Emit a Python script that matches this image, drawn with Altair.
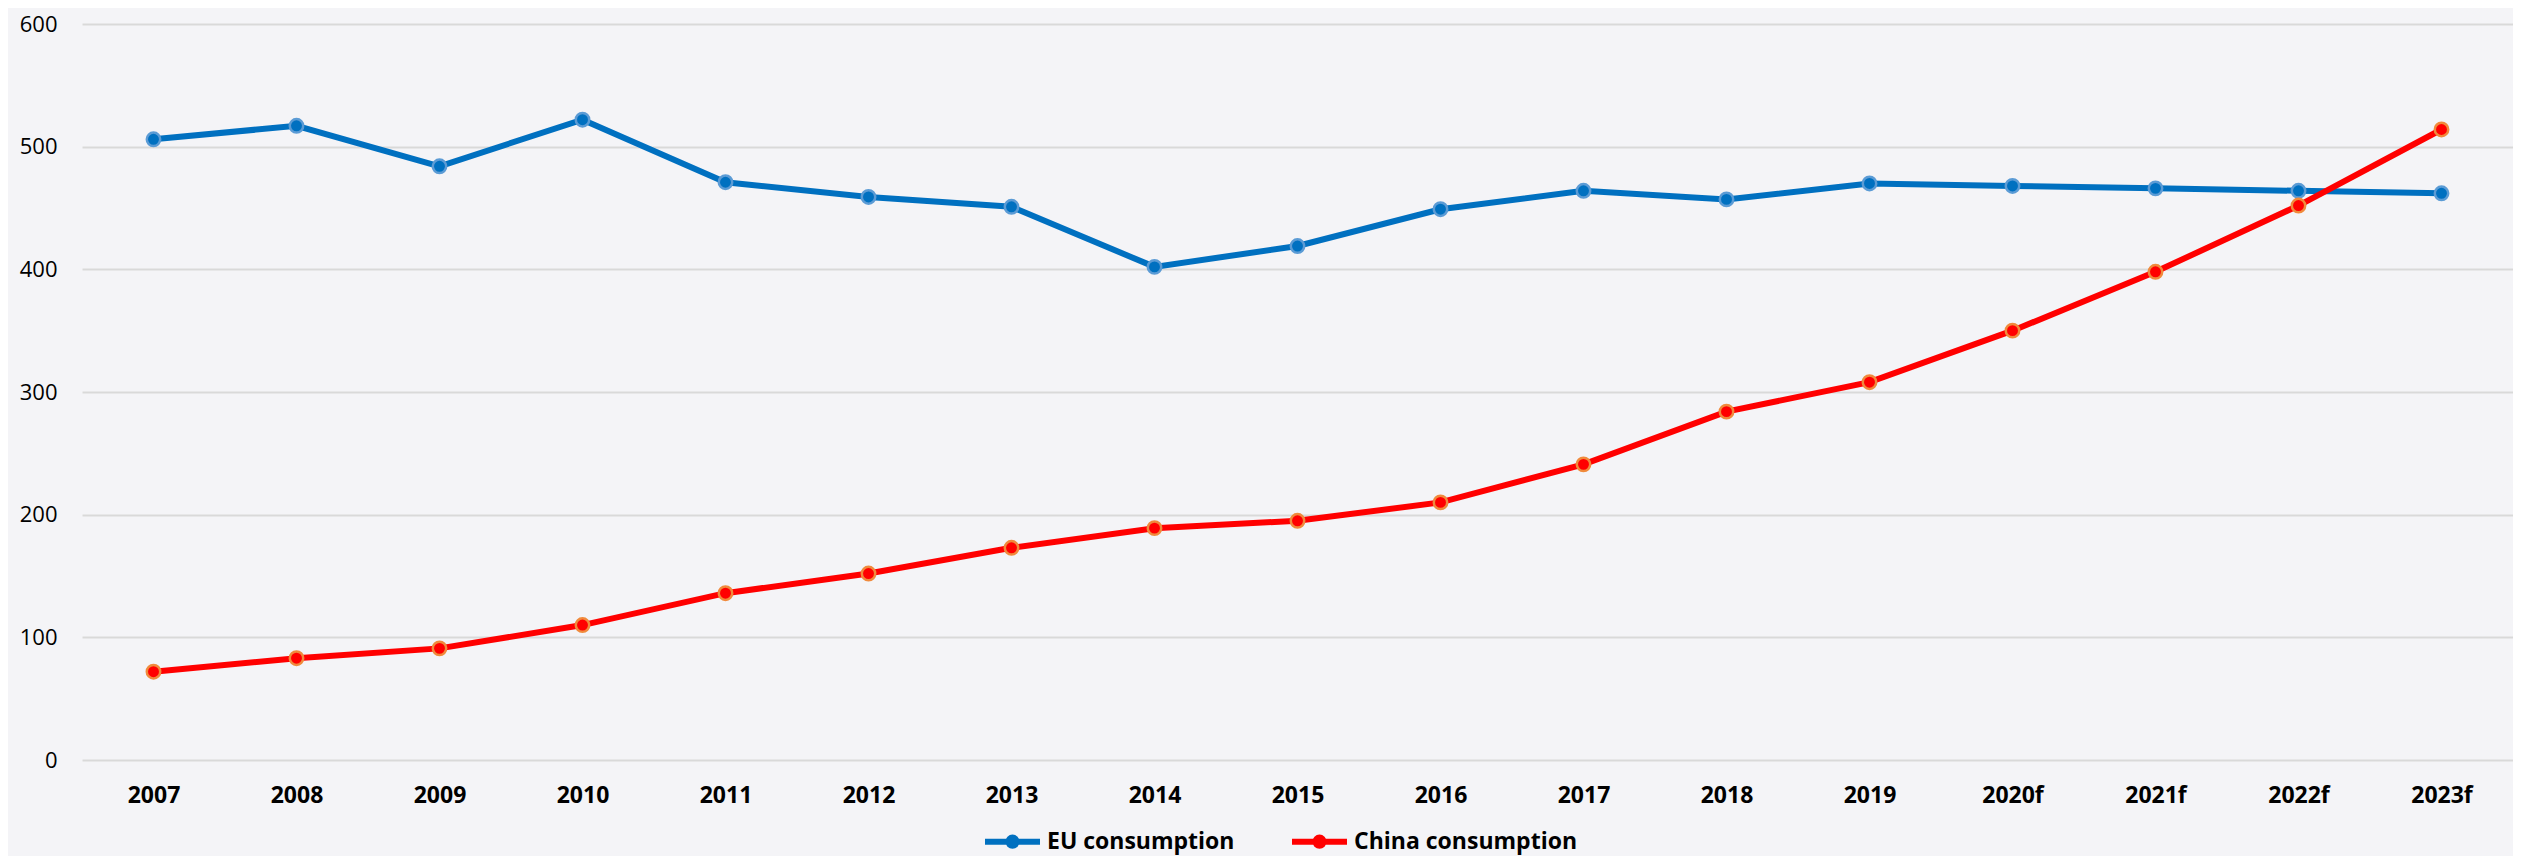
import altair as alt
import pandas as pd

years = ["2007", "2008", "2009", "2010", "2011", "2012", "2013", "2014", "2015",
         "2016", "2017", "2018", "2019", "2020f", "2021f", "2022f", "2023f"]
eu_consumption = [506, 517, 484, 522, 471, 459, 451, 402, 419, 449, 464, 457, 470, 468, 466, 464, 462]
china_consumption = [72, 83, 91, 110, 136, 152, 173, 189, 195, 210, 241, 284, 308, 350, 398, 452, 514]
series_names = ["EU consumption", "China consumption"]
line_colors = ["#0070C0", "#FF0000"]
marker_edge_colors = ["#5B9BD5", "#F08A3C"]
y_ticks = [0, 100, 200, 300, 400, 500, 600]

rows = []
for i, yr in enumerate(years):
    rows.append({"year": yr, "series": series_names[0], "value": eu_consumption[i]})
    rows.append({"year": yr, "series": series_names[1], "value": china_consumption[i]})
df = pd.DataFrame(rows)

FONT = "Open Sans"
legend_symbol = ("M-1,0 L1,0 M-0.15,0 A0.15,0.15 0 1,0 0.15,0 "
                 "A0.15,0.15 0 1,0 -0.15,0")

x_enc = alt.X("year:O", sort=years,
              scale=alt.Scale(type="point", padding=0.5),
              axis=alt.Axis(title=None, labelAngle=0, ticks=False, domain=False,
                            grid=False, labelFont=FONT, labelFontSize=23,
                            labelFontWeight="bold", labelColor="#000000",
                            labelPadding=24))
y_enc = alt.Y("value:Q",
              scale=alt.Scale(domain=[0, 600], nice=False, zero=True),
              axis=alt.Axis(title=None, values=y_ticks, ticks=False, domain=False,
                            grid=True, gridColor="#D9D9D9", gridWidth=2,
                            labelFont=FONT, labelFontSize=22, labelColor="#000000",
                            labelPadding=25))
color_enc = alt.Color("series:N",
                      scale=alt.Scale(domain=series_names, range=line_colors),
                      sort=series_names,
                      legend=alt.Legend(title=None, orient="none", direction="horizontal",
                                        legendX=900, legendY=787,
                                        symbolType=legend_symbol, symbolSize=3025,
                                        symbolStrokeWidth=6, symbolOpacity=1,
                                        labelFont=FONT, labelFontSize=23,
                                        labelFontWeight="bold", labelColor="#000000",
                                        labelLimit=500,
                                        labelOffset=4, columnPadding=45))

base = alt.Chart(df).encode(x=x_enc, y=y_enc, color=color_enc)

lines = base.mark_line(strokeWidth=6)
points = base.mark_point(filled=True, size=180, opacity=1, strokeWidth=2.5).encode(
    stroke=alt.Stroke("series:N",
                      scale=alt.Scale(domain=series_names, range=marker_edge_colors),
                      legend=None)
)

chart = alt.layer(lines, points).properties(
    width=2431,
    height=736,
    background="#F4F4F7",
    padding={"left": 74, "top": 16, "right": 0, "bottom": 96},
    autosize=alt.AutoSizeParams(type="none"),
).configure_view(stroke=None)

chart.save("out.html", embed_options={"renderer": "svg", "actions": False})
